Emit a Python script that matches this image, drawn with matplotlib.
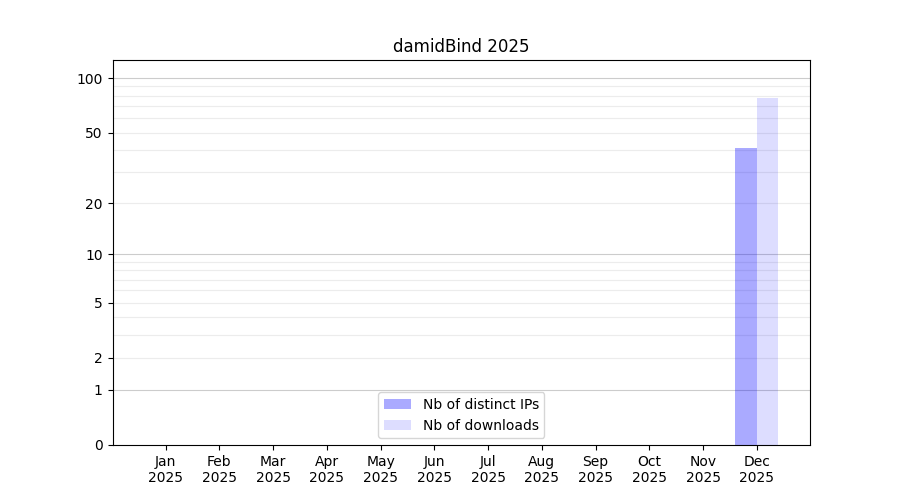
import numpy as np
import matplotlib
matplotlib.use("Agg")
import matplotlib.pyplot as plt

months = ["Jan", "Feb", "Mar", "Apr", "May", "Jun", "Jul", "Aug", "Sep", "Oct", "Nov", "Dec"]
year = "2025"
distinct_ips = [0, 0, 0, 0, 0, 0, 0, 0, 0, 0, 0, 41]
downloads = [0, 0, 0, 0, 0, 0, 0, 0, 0, 0, 0, 78]
ytick_values = [0, 1, 2, 5, 10, 20, 50, 100]
major_grid = [1, 10, 100]
minor_grid = [2, 3, 4, 5, 6, 7, 8, 9, 20, 30, 40, 50, 60, 70, 80, 90]

fig, ax = plt.subplots(figsize=(9, 5), dpi=100)
ax.set_yscale("function", functions=(lambda v: np.log10(1 + np.clip(v, 0, None)),
                                     lambda u: 10 ** u - 1))
x = np.arange(len(months))
w = 0.4
ax.bar(x - w / 2, distinct_ips, width=w, color="blue", alpha=1/3, label="Nb of distinct IPs", zorder=2)
ax.bar(x + w / 2, downloads, width=w, color="blue", alpha=0.133, label="Nb of downloads", zorder=2)

for g in minor_grid:
    ax.axhline(g, color="#ececec", lw=0.8, zorder=0.5)
for g in major_grid:
    ax.axhline(g, color="#cccccc", lw=0.8, zorder=0.5)

ax.set_ylim(0, 126)
ax.set_yticks(ytick_values)
ax.set_yticklabels([str(v) for v in ytick_values])
ax.yaxis.set_minor_locator(matplotlib.ticker.NullLocator())
ax.set_xticks(x)
ax.set_xticklabels([f"{m}\n{year}" for m in months])
ax.set_title("damidBind 2025")
ax.legend(loc="lower center")
fig.savefig("out.png", dpi=100)
